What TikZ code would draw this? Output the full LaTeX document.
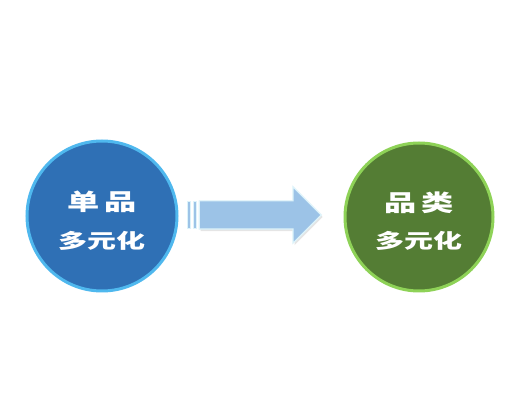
\documentclass[tikz,border=0pt]{standalone}
\usepackage{fontspec}
\newfontfamily\cjk{Noto Sans CJK SC}
\usetikzlibrary{%
	positioning,
	shapes.arrows,
	shadows
}
\definecolor{blueFill}{HTML}{2F70B5}
\definecolor{blueRim}{HTML}{4FB8EE}
\definecolor{greenFill}{HTML}{547D34}
\definecolor{greenRim}{HTML}{8ED257}
\definecolor{arrowFill}{HTML}{9CC3E7}
\definecolor{arrowRim}{HTML}{DDF3FA}

\begin{document}
\begin{tikzpicture}[
		x=1pt,y=-1pt,
		ball/.style={circle,line width=3pt,minimum size=150pt,inner sep=0pt},
		title/.style={text=white,font=\cjk\bfseries\fontsize{23}{23}\selectfont,xscale=1.4,inner sep=0pt},
		subtitle/.style={text=white,font=\cjk\bfseries\fontsize{20}{20}\selectfont,xscale=1.45,inner sep=0pt},
		bar/.style={draw=arrowRim,fill=arrowFill,line width=.8pt,minimum width=3pt,minimum height=27pt,inner sep=0pt},
		shadowed/.style={drop shadow={opacity=.2,shadow xshift=1.5pt,shadow yshift=-2pt}}
	]
	\useasboundingbox (0,0) rectangle (528,414);
	\fill[white] (0,0) rectangle (528,414);
	
	\node(single) [ball, draw=blueRim, fill=blueFill] at (102,216) {};
	\node(single-t) [title, yshift=14pt] at (single.center) {单\kern3pt 品};
	\node(single-s) [subtitle, yshift=-25pt] at (single.center) {多元化};
	
	\node(category) [ball, draw=greenRim, fill=greenFill, minimum size=148pt] at (419,217) {};
	\node(category-t) [title, yshift=14.5pt] at (category.center) {品\kern3pt 类};
	\node(category-s) [subtitle, yshift=-24pt] at (category.center) {多元化};
	
	%arrow
	\node(arrow) [single arrow, shadowed, draw=arrowRim, fill=arrowFill, line width=1.2pt,
		inner sep=13.5pt, minimum height=122pt, single arrow head extend=14pt,
		single arrow tip angle=90, single arrow head indent=0pt, anchor=tip] at (322,215) {};
	\node(bar1) [bar, left=2pt of arrow.tail] {};
	\node(bar2) [bar, left=1.5pt of bar1] {};
	
\end{tikzpicture}
\end{document}
